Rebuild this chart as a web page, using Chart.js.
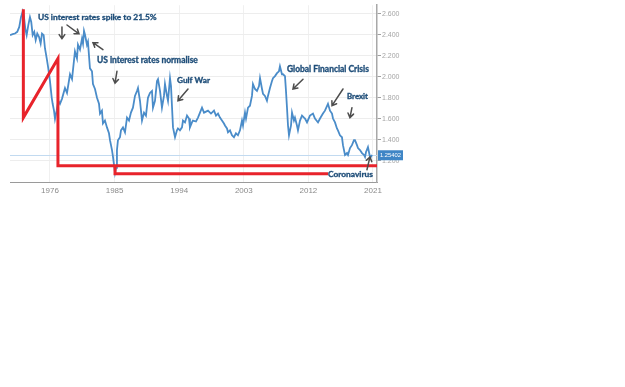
<!DOCTYPE html>
<html><head><meta charset="utf-8">
<script src="https://cdn.jsdelivr.net/npm/chart.js@4.4.1/dist/chart.umd.min.js"></script>
<style>html,body{margin:0;padding:0;background:#fff;}canvas{display:block;}</style>
</head><body>
<canvas id="c" width="625" height="387"></canvas>
<script>
// GBP/USD (decimal year, rate)
const years = [1970.43,1970.80,1971.12,1971.44,1971.72,1971.96,1972.20,1972.38,1972.56,1972.75,1972.98,1973.21,1973.39,1973.59,1973.81,1974.01,1974.23,1974.47,1974.70,1974.89,1975.12,1975.30,1975.54,1975.76,1976.00,1976.24,1976.38,1976.56,1976.70,1976.93,1977.16,1977.39,1977.67,1978.09,1978.37,1978.79,1979.07,1979.48,1979.76,1979.90,1980.18,1980.46,1980.60,1980.74,1980.88,1981.15,1981.29,1981.57,1981.85,1981.99,1982.27,1982.55,1982.83,1982.97,1983.24,1983.38,1983.66,1983.94,1984.22,1984.36,1984.64,1984.78,1984.92,1985.06,1985.20,1985.33,1985.47,1985.75,1985.89,1986.17,1986.45,1986.73,1987.01,1987.28,1987.56,1987.84,1988.12,1988.26,1988.54,1988.82,1989.10,1989.37,1989.65,1989.93,1990.21,1990.35,1990.63,1990.91,1991.05,1991.33,1991.60,1991.88,1992.02,1992.30,1992.44,1992.72,1992.86,1993.14,1993.42,1993.69,1993.83,1994.11,1994.39,1994.53,1994.81,1995.09,1995.37,1995.50,1995.78,1995.92,1996.34,1996.62,1996.90,1997.18,1997.46,1997.59,1998.01,1998.43,1998.85,1999.13,1999.41,1999.68,1999.96,2000.24,2000.38,2000.66,2000.80,2001.08,2001.36,2001.63,2001.91,2002.19,2002.47,2002.75,2002.89,2003.17,2003.31,2003.59,2003.86,2004.14,2004.28,2004.56,2004.84,2005.12,2005.26,2005.54,2005.68,2005.95,2006.23,2006.37,2006.65,2006.93,2007.07,2007.35,2007.63,2007.90,2008.04,2008.32,2008.46,2008.74,2008.88,2009.02,2009.16,2009.30,2009.58,2009.72,2009.99,2010.13,2010.41,2010.55,2010.83,2011.11,2011.39,2011.53,2011.81,2011.94,2012.22,2012.64,2012.92,2013.34,2013.62,2014.03,2014.31,2014.73,2015.01,2015.29,2015.43,2015.71,2015.98,2016.12,2016.40,2016.68,2016.82,2017.10,2017.38,2017.52,2017.80,2018.07,2018.35,2018.49,2018.77,2018.91,2019.19,2019.47,2019.75,2019.89,2020.03,2020.30,2020.44,2020.58,2020.72,2020.86];
const rates = [2.396,2.405,2.411,2.427,2.474,2.567,2.621,2.567,2.458,2.396,2.490,2.567,2.521,2.396,2.427,2.349,2.411,2.380,2.317,2.411,2.396,2.271,2.177,2.083,1.959,1.802,1.741,1.678,1.600,1.678,1.772,1.743,1.790,1.893,1.846,2.024,1.977,2.240,2.174,2.305,2.258,2.361,2.315,2.436,2.399,2.305,2.333,2.080,2.052,1.931,1.884,1.800,1.743,1.650,1.678,1.556,1.584,1.519,1.463,1.397,1.303,1.238,1.163,1.088,1.135,1.303,1.397,1.425,1.491,1.519,1.472,1.612,1.584,1.659,1.706,1.818,1.865,1.893,1.772,1.584,1.659,1.631,1.800,1.846,1.865,1.706,1.772,1.959,1.977,1.865,1.706,1.818,1.931,1.818,1.772,1.987,1.912,1.519,1.425,1.491,1.509,1.491,1.519,1.584,1.566,1.631,1.603,1.519,1.566,1.584,1.575,1.612,1.659,1.706,1.659,1.659,1.678,1.650,1.678,1.631,1.650,1.612,1.584,1.556,1.537,1.509,1.472,1.491,1.444,1.425,1.463,1.444,1.491,1.584,1.537,1.659,1.603,1.706,1.725,1.818,1.931,1.884,1.865,1.912,1.987,1.884,1.837,1.818,1.772,1.818,1.893,1.959,1.987,2.006,2.034,2.052,2.099,2.024,2.024,2.006,1.865,1.706,1.537,1.444,1.537,1.659,1.584,1.612,1.537,1.491,1.584,1.631,1.612,1.603,1.566,1.566,1.631,1.650,1.603,1.566,1.603,1.650,1.678,1.743,1.678,1.650,1.603,1.566,1.509,1.491,1.444,1.425,1.350,1.257,1.275,1.257,1.322,1.350,1.397,1.397,1.350,1.322,1.303,1.275,1.257,1.238,1.285,1.331,1.285,1.238,1.238,1.257];
const lastPrice = 1.25402;
const xTicks = [1976,1985,1994,2003,2012,2021];
const yTicks = [1.2,1.4,1.6,1.8,2.0,2.2,2.4,2.6];

// red hand-drawn marker lines (year, rate)
const red1Years = [1972.29,1972.29,1977.11,1977.11,2021.56];
const red1Rates = [2.642,1.612,2.174,1.154,1.154];
const red2Years = [1985.06,1985.06,2014.73];
const red2Rates = [1.154,1.079,1.079];

// annotation texts (left edge year, middle rate)
const noteTexts = ["US interest rates spike to 21.5%","US interest rates normalise","Gulf War","Global Financial Crisis","Brexit","Coronavirus"];
const noteYears = [1974.33,1982.55,1993.69,2009.02,2017.38,2014.73];
const noteRates = [2.567,2.155,1.968,2.071,1.809,1.069];
const noteWidths = [119,101,33,82,21,45];

// arrows: tail -> head (year, rate)
const arrowFromYears = [1977.67,1978.37,1983.38,1985.33,1995.23,2011.25,2016.82,2018.07,2020.16];
const arrowFromRates = [2.474,2.492,2.258,2.052,1.884,1.977,1.884,1.706,1.116];
const arrowToYears   = [1977.67,1980.04,1981.99,1985.06,1993.83,2009.85,2015.29,2017.79,2020.58];
const arrowToRates   = [2.361,2.408,2.324,1.940,1.772,1.884,1.725,1.612,1.238];

const pts = (xs, ys) => xs.map((v,i)=>({x:v,y:ys[i]}));

const annot = {
  id:'annot',
  beforeDatasetsDraw(chart){
    const {ctx, chartArea:a, scales:{y}} = chart;
    const py = Math.round(y.getPixelForValue(lastPrice))+0.5;
    ctx.save();
    ctx.strokeStyle = '#c2daf0'; ctx.lineWidth = 1;
    ctx.beginPath(); ctx.moveTo(a.left, py); ctx.lineTo(a.right, py); ctx.stroke();
    ctx.restore();
  },
  afterDatasetsDraw(chart){
    const {ctx, scales:{x,y}} = chart;
    ctx.save();
    ctx.fillStyle = '#1f4e79'; ctx.strokeStyle = '#1f4e79'; ctx.lineWidth = 0.35;
    ctx.textBaseline = 'middle'; ctx.textAlign = 'left';
    noteTexts.forEach((t,i)=>{
      ctx.font = 'bold 10px Lato';
      const w = ctx.measureText(t).width;
      const s = 10*noteWidths[i]/w;
      ctx.font = 'bold '+s.toFixed(2)+'px Lato';
      const tx = x.getPixelForValue(noteYears[i]), ty = y.getPixelForValue(noteRates[i]);
      ctx.fillText(t, tx, ty);
      ctx.strokeText(t, tx, ty);
    });
    ctx.strokeStyle = '#4d4d4d'; ctx.lineWidth = 1.5; ctx.lineCap='round';
    arrowFromYears.forEach((v,i)=>{
      const x0 = x.getPixelForValue(v), y0 = y.getPixelForValue(arrowFromRates[i]);
      const x1 = x.getPixelForValue(arrowToYears[i]), y1 = y.getPixelForValue(arrowToRates[i]);
      const ang = Math.atan2(y1-y0, x1-x0), L = 5;
      ctx.beginPath(); ctx.moveTo(x0,y0); ctx.lineTo(x1,y1);
      ctx.moveTo(x1 - L*Math.cos(ang-0.6), y1 - L*Math.sin(ang-0.6));
      ctx.lineTo(x1,y1);
      ctx.lineTo(x1 - L*Math.cos(ang+0.6), y1 - L*Math.sin(ang+0.6));
      ctx.stroke();
    });
    ctx.restore();
  },
  afterDraw(chart){
    const {ctx, chartArea:a, scales:{y}} = chart;
    const py = y.getPixelForValue(lastPrice);
    ctx.save();
    ctx.fillStyle = '#3f86c6';
    ctx.fillRect(a.right+1, py-5, 25, 10);
    ctx.fillStyle = '#fff';
    const t = lastPrice.toFixed(5);
    ctx.font = '10px "Liberation Sans"';
    const s = 10*21/ctx.measureText(t).width;
    ctx.font = s.toFixed(2)+'px "Liberation Sans"';
    ctx.textBaseline='middle'; ctx.textAlign='left';
    ctx.fillText(t, a.right+3, py+0.5);
    ctx.restore();
  }
};

new Chart(document.getElementById('c'), {
  type:'line',
  data:{datasets:[
    {data:pts(years,rates), borderColor:'#4a8cc9', borderWidth:1.8, pointRadius:0, tension:0, order:3},
    {data:pts(red1Years,red1Rates), borderColor:'#e8232b', borderWidth:3, pointRadius:0, tension:0, order:1, borderJoinStyle:'miter'},
    {data:pts(red2Years,red2Rates), borderColor:'#e8232b', borderWidth:3, pointRadius:0, tension:0, order:2, borderJoinStyle:'miter'}
  ]},
  options:{
    responsive:false, animation:false, devicePixelRatio:1,
    layout:{padding:{left:10, top:3, right:225, bottom:187}},
    plugins:{legend:{display:false}, tooltip:{enabled:false}},
    scales:{
      x:{type:'linear', min:1970.43, max:2021.56,
        afterBuildTicks(s){ s.ticks = xTicks.map(v=>({value:v})); },
        afterFit(s){ s.height = 18; },
        grid:{color:'#f0f0f0', drawTicks:false},
        border:{color:'#9a9a9a', width:1},
        ticks:{color:'#8a8a8a', font:{size:8, family:'"Liberation Sans"'}, padding:4, maxRotation:0, callback:v=>String(v)}
      },
      y:{position:'right', min:1.0, max:2.68,
        afterBuildTicks(s){ s.ticks = yTicks.map(v=>({value:v})); },
        afterFit(s){ s.width = 23; },
        grid:{color:'#ededed', tickLength:4, tickColor:'#a0a0a0'},
        border:{color:'#a8a8a8', width:1.5},
        ticks:{color:'#a5a5a5', font:{size:7, family:'"Liberation Sans"'}, padding:1, callback:v=>v.toFixed(3)}
      }
    }
  },
  plugins:[annot]
});
</script>
</body></html>
